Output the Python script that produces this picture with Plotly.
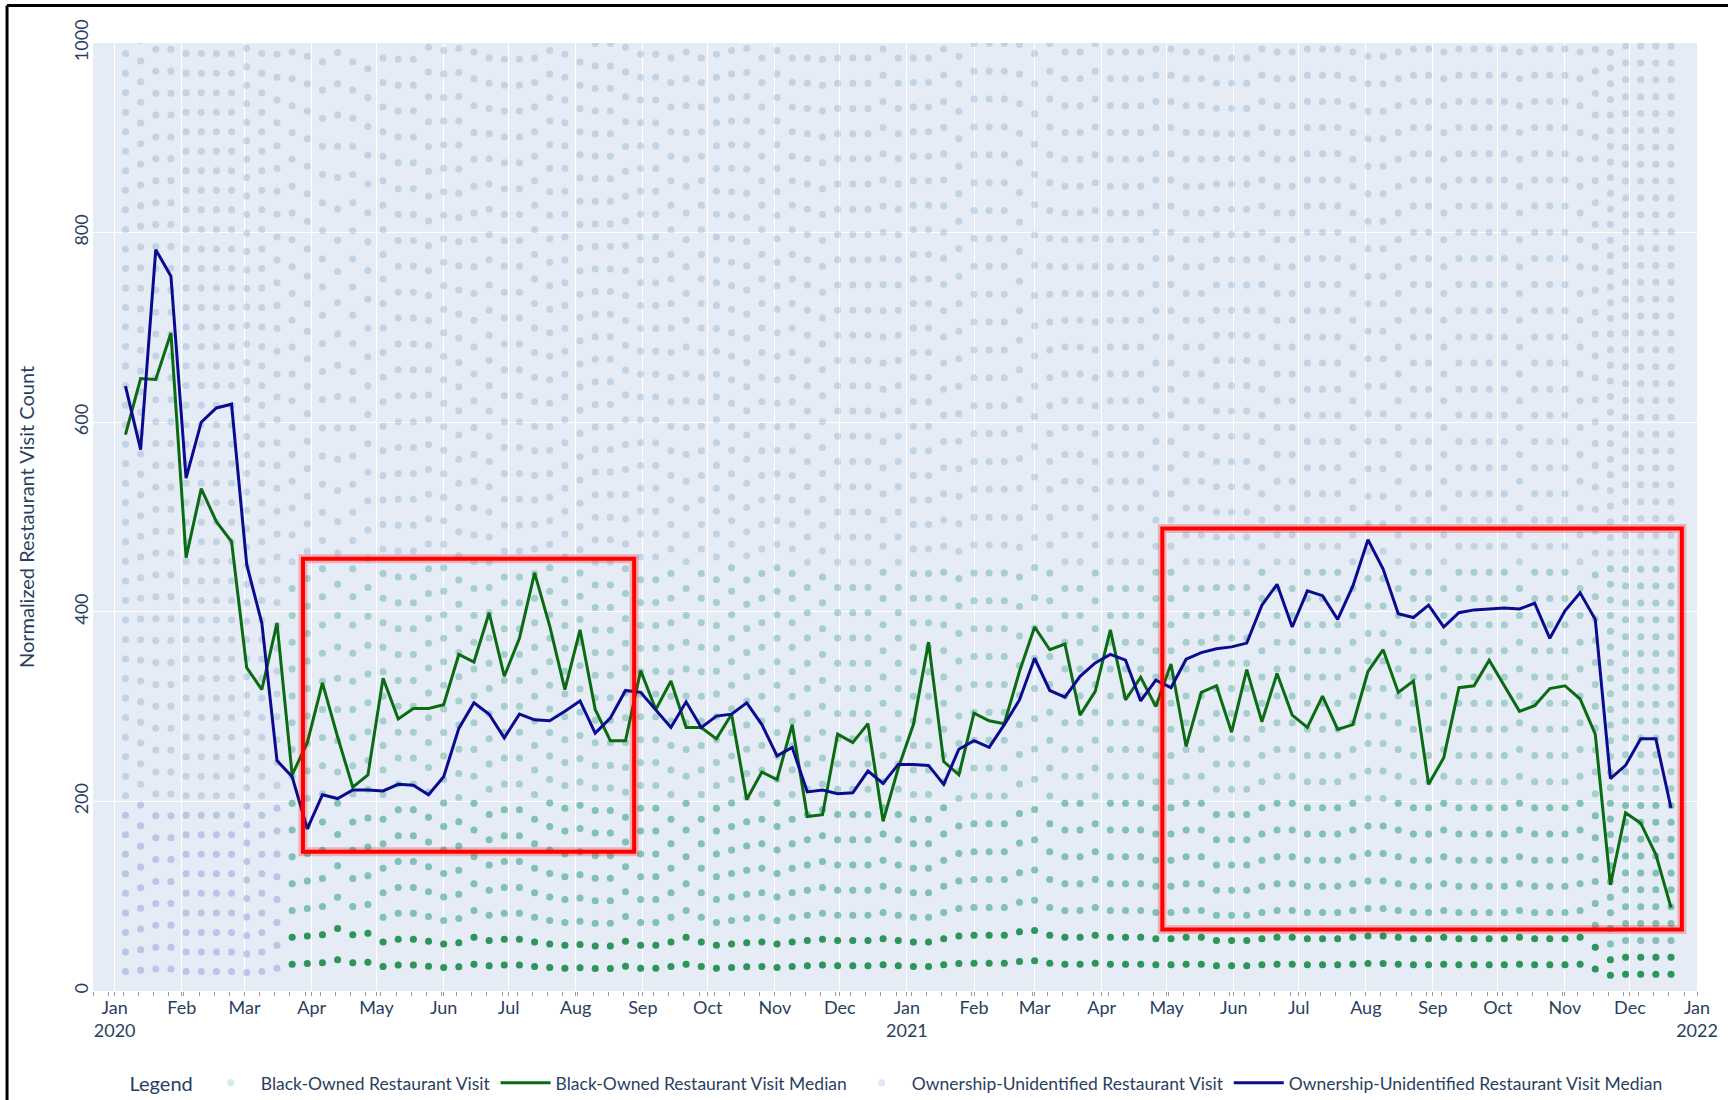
import pandas as pd
import plotly.graph_objects as go

# ---------------- data ----------------
weeks = pd.date_range("2020-01-06", periods=103, freq="7D")

black_median = [587, 646, 645, 694, 457, 530, 495, 474, 341, 318,
                388, 228, 262, 325, 268, 215, 228, 330, 287, 298,
                298, 302, 355, 347, 399, 332, 372, 441, 385, 318,
                381, 297, 264, 264, 338, 297, 327, 278, 278, 266,
                292, 202, 231, 223, 281, 184, 186, 271, 262, 282,
                179, 235, 281, 368, 242, 228, 293, 285, 282, 337,
                384, 360, 366, 291, 316, 381, 307, 331, 300, 345,
                258, 315, 322, 273, 339, 284, 335, 291, 278, 311,
                276, 281, 337, 360, 315, 327, 218, 246, 320, 322,
                349, 322, 295, 301, 319, 322, 308, 271, 112, 188,
                177, 144, 88]

other_median = [638, 571, 782, 754, 541, 600, 615, 619, 450, 388,
                243, 226, 171, 207, 203, 212, 212, 211, 218, 217,
                207, 226, 277, 304, 292, 267, 292, 286, 285, 295,
                306, 272, 288, 317, 315, 297, 278, 305, 278, 290,
                292, 304, 281, 248, 257, 210, 212, 208, 209, 232,
                219, 239, 239, 238, 218, 255, 264, 257, 281, 307,
                351, 317, 310, 332, 346, 355, 349, 306, 328, 320,
                350, 357, 361, 363, 367, 407, 429, 384, 422, 417,
                392, 427, 476, 445, 398, 394, 407, 384, 399, 402,
                403, 404, 403, 409, 372, 401, 420, 392, 224, 238,
                266, 266, 193]

# normalised value of one visit in each week (spacing of the dot rows)
visit_unit = [20.6, 21.8, 23.1, 23.1, 20.6, 20.6, 20.6, 20.6, 19.5, 20.6,
              24.1, 28.3, 29.0, 29.7, 33.0, 29.7, 30.4, 25.9, 27.3, 27.3,
              26.2, 24.8, 25.5, 28.3, 26.6, 27.3, 27.3, 25.9, 24.8, 24.1,
              24.5, 23.8, 23.8, 26.2, 24.1, 24.1, 25.9, 28.3, 25.9, 24.1,
              24.8, 25.5, 25.9, 24.8, 25.9, 26.6, 27.3, 26.6, 26.6, 26.6,
              27.6, 26.6, 25.9, 25.9, 27.6, 29.0, 29.4, 29.4, 29.4, 31.2,
              31.9, 29.4, 28.3, 28.3, 29.4, 28.3, 28.3, 28.3, 27.6, 27.6,
              28.3, 28.3, 26.6, 26.6, 26.6, 27.6, 28.3, 28.3, 27.6, 27.6,
              27.6, 28.3, 29.0, 29.0, 28.3, 27.6, 27.6, 28.3, 27.6, 27.6,
              27.6, 27.6, 28.3, 27.6, 27.6, 27.6, 28.3, 23.1, 16.5, 17.8,
              17.8, 17.8, 17.8]

lockdown_start = pd.Timestamp("2020-03-23")
y_ticks = [0, 200, 400, 600, 800, 1000]
month_ticks = pd.date_range("2020-01-01", "2022-01-01", freq="MS")
month_text = [d.strftime("%b") + ("<br>" + d.strftime("%Y") if d.month == 1 else "")
              for d in month_ticks]

highlight_boxes = [("2020-03-28", "2020-08-28", 147, 456),
                   ("2021-04-29", "2021-12-25", 65, 488)]

# ---------------- dot lattice ----------------
VMAX = 1000
green_bins = {"top": ([], []), "upper": ([], []), "mid": ([], []), "low": ([], [])}
purple_bins = {"top": ([], []), "low": ([], [])}
for d, u in zip(weeks, visit_unit):
    k = 1
    while k * u <= VMAX + 5:
        v = round(k * u, 1)
        post = d >= lockdown_start
        if not post or v > 450:
            g = "top"
        elif k <= 2:
            g = "low"
        elif v <= 200:
            g = "mid"
        else:
            g = "upper"
        green_bins[g][0].append(d)
        green_bins[g][1].append(v)
        p = "low" if v <= 200 else "top"
        purple_bins[p][0].append(d)
        purple_bins[p][1].append(v)
        k += 1

GREEN = "rgb(30,175,90)"
GREEN_DARK = "rgb(15,140,60)"
PURPLE = "rgb(125,115,240)"
green_op = {"top": 0.12, "upper": 0.26, "mid": 0.42, "low": 0.85}
purple_op = {"top": 0.15, "low": 0.26}


def green_trace(name, show):
    xs, ys = green_bins[name]
    return go.Scatter(
        x=xs, y=ys, mode="markers",
        name="Black-Owned Restaurant Visit",
        legendgroup="bv", showlegend=show, legendrank=1,
        marker=dict(color=GREEN_DARK if name == "low" else GREEN, size=7,
                    opacity=green_op[name]),
        hoverinfo="skip")


fig = go.Figure()
fig.add_trace(green_trace("top", True))
first = True
for name in ["top", "low"]:
    xs, ys = purple_bins[name]
    fig.add_trace(go.Scatter(
        x=xs, y=ys, mode="markers",
        name="Ownership-Unidentified Restaurant Visit",
        legendgroup="ov", showlegend=first, legendrank=3,
        marker=dict(color=PURPLE, size=7, opacity=purple_op[name]),
        hoverinfo="skip"))
    first = False
for name in ["upper", "mid", "low"]:
    fig.add_trace(green_trace(name, False))

fig.add_trace(go.Scatter(
    x=weeks, y=black_median, mode="lines",
    name="Black-Owned Restaurant Visit Median", legendrank=2,
    line=dict(color="#0a6b12", width=3)))
fig.add_trace(go.Scatter(
    x=weeks, y=other_median, mode="lines",
    name="Ownership-Unidentified Restaurant Visit Median", legendrank=4,
    line=dict(color="#0b0b8f", width=3)))

shapes = []
for x0, x1, y0, y1 in highlight_boxes:
    shapes.append(dict(type="rect", xref="x", yref="y", x0=x0, x1=x1, y0=y0, y1=y1,
                       line=dict(color="rgba(255,0,0,0.25)", width=9), layer="above"))
    shapes.append(dict(type="rect", xref="x", yref="y", x0=x0, x1=x1, y0=y0, y1=y1,
                       line=dict(color="rgb(255,0,0)", width=4), layer="above"))
# screenshot frame (top and left edges)
shapes.append(dict(type="line", xref="paper", yref="paper", x0=-0.0536, x1=1.03,
                   y0=1.0395, y1=1.0395, line=dict(color="black", width=3)))
shapes.append(dict(type="line", xref="paper", yref="paper", x0=-0.0536, x1=-0.0536,
                   y0=1.0395, y1=-0.13, line=dict(color="black", width=3)))

FONT = "Lato, 'Open Sans', sans-serif"
fig.update_layout(
    width=1728, height=1100, autosize=False,
    margin=dict(l=93, r=31, t=43, b=109, autoexpand=False),
    template="plotly",
    font=dict(family=FONT, size=17, color="#2a3f5f"),
    shapes=shapes,
    showlegend=True,
    legend=dict(orientation="h", x=0.0215, xanchor="left", y=-0.097, yanchor="middle",
                title=dict(text="Legend", font=dict(size=20)),
                font=dict(size=17.5), itemwidth=50),
)
fig.update_xaxes(
    range=["2019-12-22", "2022-01-01"], tickvals=month_ticks, ticktext=month_text,
    tickangle=0, automargin=False, ticklabelstandoff=-4,
    ticks="outside", ticklen=4, tickcolor="#9a9a9a",
    minor=dict(dtick=7 * 86400000, tick0="2019-12-29", ticks="outside",
               ticklen=4, tickcolor="#9a9a9a", showgrid=False),
    tickfont=dict(size=18), showline=False, zeroline=False)
fig.update_yaxes(
    range=[0, 1000], tickvals=y_ticks, tickangle=-90, automargin=False,
    tickfont=dict(size=18), zeroline=False,
    title=dict(text="Normalized Restaurant Visit Count", font=dict(size=20), standoff=30))

fig.write_html("out.html", config={"displayModeBar": False},
               post_script="document.body.style.margin='0';document.body.style.overflow='hidden';")
